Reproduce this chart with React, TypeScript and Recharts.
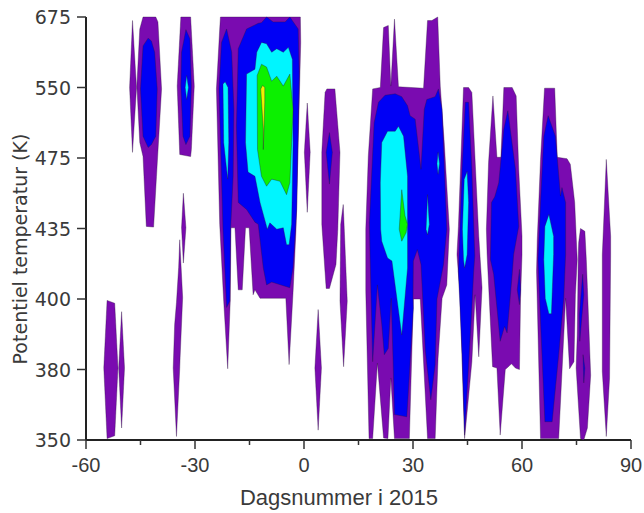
import React from "react";
import { ScatterChart, Scatter, XAxis, YAxis } from "recharts";

type Pt = [number, number];
// x: day number in 2015; y: position on the potential temperature axis (equally spaced levels)
const levels = ["350", "380", "400", "435", "475", "550", "675"];
const dayTicks = [-60, -45, -30, -15, 0, 15, 30, 45, 60, 75, 90];
const levelTicks = [0, 1, 2, 3, 4, 5, 6];

const PURPLE = "#7a0bb0";
const BLUE = "#0000f5";
const CYAN = "#00f5ff";
const GREEN = "#0cf000";
const YELLOW = "#f0f000";

const purpleA: Pt[] = [[-47.2,5.95],[-46.1,5.0],[-47.2,4.08],[-48.0,5.0]];
const purpleB: Pt[] = [[-44.3,6],[-45.2,5.83],[-46,5.02],[-45.2,4.22],[-44.3,4.02],[-43.4,3.03],[-41.4,3.02],[-40.6,3.74],[-39.2,4.98],[-40.2,5.93],[-40.8,6]];
const purpleC: Pt[] = [[-33.9,6],[-34.9,5.02],[-34.2,4.05],[-31.2,4.02],[-31,4.12],[-30.2,5.02],[-31.2,6]];
const purpleD: Pt[] = [[-33.2,3.5],[-32.5,3.01],[-33.2,2.51],[-33.7,3.01]];
const purpleE: Pt[] = [[-34.2,2.84],[-33.4,2.02],[-34.1,1.17],[-34.2,1.02],[-35.1,0.05],[-36,1.02],[-35.6,1.64],[-35.1,1.95],[-34.5,2.45]];
const purpleF: Pt[] = [[-54.2,1.98],[-52.1,1.94],[-51.2,1.02],[-52.1,0.06],[-54.2,0.02],[-55.1,1.02]];
const purpleG: Pt[] = [[-50.2,1.82],[-49.4,1.02],[-50.2,0.17],[-51,1.02]];
const purpleH: Pt[] = [[-23,6],[-1,6],[-0.9,5.64],[-1.6,4.22],[-2.2,2.99],[-3,2.11],[-4.1,1.07],[-5,2.01],[-12.1,2.01],[-13.5,2.13],[-14,2.06],[-15.1,3.01],[-16.1,3.01],[-17,2.13],[-18.1,2.13],[-19,3.01],[-20.1,3.01],[-20.3,1.97],[-21,1.01],[-22.1,1.97],[-23.2,3.06],[-24.1,4.98],[-23.2,5.83]];
const purpleI: Pt[] = [[0.9,4.78],[1.7,4.08],[0.9,3.23],[0.1,4.08]];
const purpleJ: Pt[] = [[6.3,4.98],[8.5,4.98],[9.9,4.08],[9.3,2.99],[8.8,2.49],[7,2.15],[6.1,2.15],[4.9,3.06],[4.9,4.08],[5.8,4.93]];
const purpleK: Pt[] = [[10.8,3.34],[11.9,1.97],[10.9,1.04],[9.9,1.97],[10.1,3.06]];
const purpleL: Pt[] = [[3.9,1.85],[4.8,1.02],[3.9,0.14],[3,1.02]];
const purpleM: Pt[] = [[18.9,4.98],[21,5],[21.9,5.85],[23.2,5.88],[23.9,5.02],[24.9,5.97],[26,5.01],[32.9,4.99],[34,5.95],[35.2,5.95],[36.8,6],[37.5,5.02],[38.6,4.22],[40,2.99],[39.3,2.2],[38,2.01],[36.9,1.16],[36.1,0.02],[34,0.02],[32,2],[30.1,2],[29,0.02],[24.9,0.02],[23.9,0.88],[23.1,0.02],[21.9,0.03],[20.2,1.09],[18.9,0.02],[17.9,0.02],[17,2.11],[17,2.99],[17.7,4.03]];
const purpleN: Pt[] = [[43.9,5],[45.3,5],[46.2,4.93],[48.1,2.89],[48.5,2.56],[49,2.16],[48.1,1.18],[47.1,2.06],[46.2,1.11],[44.2,0.02],[43,2.01],[42.1,2.63],[42.5,3.03]];
const purpleO: Pt[] = [[52,4.88],[53.1,4.01],[54.2,4.01],[55,5],[57.3,5],[58.4,4.88],[59.1,3.84],[60,2.89],[60,2.63],[59.6,2.01],[59.3,1],[58.2,1.02],[57.1,1.08],[55.4,1],[54,0.07],[53.1,1.02],[51.9,1.04],[50.4,2.63],[50.2,2.99],[50.8,3.94]];
const purpleP: Pt[] = [[66.2,4.99],[69,4.99],[69.7,4.01],[72.4,3.99],[73.3,3.91],[74.5,3.37],[75.2,2.56],[74.7,2.06],[74.3,1.11],[73.1,1.01],[72,2.01],[70.1,0.02],[65.1,0.02],[64,2.39],[64.2,2.84],[65.1,3.98]];
const purpleQ: Pt[] = [[76.1,3],[77.3,2.96],[77.7,2.56],[78,2.16],[78.9,0.92],[78,0.17],[77,0],[76.1,0.02],[74.9,1.02],[75.2,1.49],[75.5,2.63],[75.6,2.8]];
const purpleR: Pt[] = [[83.2,3.98],[84.4,2.89],[84.4,2.63],[84.1,0.88],[83.2,0.05],[82.1,0.97],[82.1,2.63],[82.4,2.99]];

const blueA: Pt[] = [[-42.9,5.7],[-44.3,5.59],[-45,4.98],[-44.3,4.31],[-42.9,4.15],[-42,4.19],[-40.8,4.31],[-40.4,4.98],[-41.1,5.5],[-42,5.66]];
const blueB: Pt[] = [[-32.5,5.82],[-33.7,5.5],[-33.9,5.02],[-33.3,4.31],[-32.5,4.19],[-31.4,4.31],[-31,5.02],[-31.4,5.69]];
const blueC: Pt[] = [[-21.3,5.83],[-22.7,5.64],[-23.4,4.98],[-22.3,2.99],[-21.3,1.88],[-20.4,1.97],[-20.2,2.99],[-19.5,3.74],[-19.3,4.69],[-19.9,5.5]];
const blueD: Pt[] = [[-12.6,5.91],[-15.8,5.83],[-18.1,5.55],[-18.6,4.45],[-18.1,3.37],[-15.8,3.27],[-13.5,3.09],[-12.6,3.06],[-11.2,2.44],[-10.3,2.2],[-8.9,2.24],[-3.9,2.16],[-3,2.45],[-2,3.27],[-1.3,5.17],[-1.6,5.83],[-3.9,6],[-5.2,5.93],[-8.5,5.93],[-10.3,6],[-11.7,5.92]];
const blueE: Pt[] = [[7,4.36],[7.8,4.08],[7,3.63],[6.1,4.08]];
const blueF: Pt[] = [[25.1,4.91],[26.9,4.87],[28.5,4.74],[29.2,4.6],[30.6,4.55],[32.2,3.84],[33.1,4.69],[33.8,4.83],[36.1,4.87],[37,4.98],[38,4.69],[39.3,2.99],[38.4,2.49],[36.6,2],[36.1,1.07],[34.9,0.57],[33.4,1.26],[32.2,2.49],[31.2,2.7],[30.1,2.54],[30,2.01],[30.1,1.87],[28.3,0.33],[24.9,0.36],[24.5,1.16],[24,2.01],[23.2,1.3],[22.1,1.21],[21.4,1.64],[20.2,2.2],[18.9,1.11],[18.2,2.58],[18,3.08],[19.3,4.5],[20.5,4.79],[22.3,4.89]];
const blueG: Pt[] = [[44.4,4.79],[45.3,4.79],[46.2,3.84],[47,2.61],[46.7,2.39],[46,1.68],[44.2,0.07],[43.5,1.21],[42.5,2.39],[43.5,3.84]];
const blueH: Pt[] = [[56.1,4.67],[55,4.41],[53.6,3.65],[52.5,3.45],[51.6,3.37],[51.3,2.56],[52.2,2.35],[54,1.4],[55.2,1.61],[55.9,1.52],[57.3,2.35],[57.7,2.63],[59.1,3.03],[58.2,3.84]];
const blueI: Pt[] = [[59.3,2.42],[59.6,2.13],[59.3,1.92],[58.7,2.13]];
const blueJ: Pt[] = [[67.2,4.6],[66,4.31],[65.1,3.37],[64.4,2.56],[65.1,1.68],[66.3,0.26],[68.3,0.26],[70.1,1.21],[71.5,2.01],[72,2.63],[72,3.37],[71,3.58],[70.6,3.46],[69.2,4.31]];
const blueK: Pt[] = [[76.7,2.35],[77,2.06],[75.9,1.4],[75.8,1.78]];
const blueL: Pt[] = [[76.8,1.21],[77.3,1.02],[77,0.81]];
const blueM: Pt[] = [[26,4.01],[25.8,3.98],[26,3.94],[26.2,3.98]];

const cyanA: Pt[] = [[-32.3,5.17],[-32.7,5.0],[-32.3,4.83],[-31.8,5.0]];
const cyanB: Pt[] = [[-21.7,5.08],[-22.3,5.05],[-22.1,4.22],[-21,3.7],[-20.7,4.22],[-20.9,5.0]];
const cyanC: Pt[] = [[-11.7,5.64],[-13,5.5],[-13.5,5.26],[-15.8,5.19],[-16.1,4.22],[-15.4,3.8],[-13.5,3.74],[-12.1,3.37],[-10.3,3.03],[-10.1,2.99],[-9.4,3.08],[-7.5,2.99],[-5.7,3.01],[-4.8,2.77],[-4.1,2.77],[-3.4,3.06],[-3,4.22],[-3.2,5.4],[-4.3,5.57],[-5.7,5.5],[-7.5,5.55],[-8.9,5.5],[-10.3,5.62]];
const cyanD: Pt[] = [[26,4.45],[25.1,4.38],[23,4.38],[21.4,4.22],[21,3.65],[21.1,2.99],[21.4,2.82],[23,2.58],[24.2,2.54],[26.9,1.49],[28.5,2.44],[28.5,3.06],[28.5,3.74],[27.4,4.31]];
const cyanE: Pt[] = [[34,3.48],[33.6,2.99],[34,2.91],[34.5,3.06]];
const cyanF: Pt[] = [[36.9,4.08],[36.6,3.92],[36.9,3.77],[37.3,3.92]];
const cyanG: Pt[] = [[44.9,3.81],[44.1,3.7],[43.6,2.99],[43.9,2.56],[44.2,2.44],[44.9,2.63],[45.3,3.37]];
const cyanH: Pt[] = [[67.4,3.2],[66.3,3.03],[66,2.56],[66.4,2.01],[67.4,1.79],[68.1,1.79],[68.7,2.63],[68.7,2.89]];

const greenA: Pt[] = [[-11.7,5.33],[-12.9,5.17],[-12.8,4.12],[-11.7,3.74],[-10.3,3.6],[-8.9,3.7],[-6.6,3.67],[-4.8,3.48],[-3.9,3.65],[-3,4.69],[-3.9,5.19],[-5.7,5.02],[-7.5,5.16],[-8.9,5.09],[-10.3,5.29]];
const greenB: Pt[] = [[26.9,3.55],[26.2,2.99],[26.9,2.82],[28.1,2.94],[28.5,3.06],[27.8,3.18]];

const yellowA: Pt[] = [[-11.4,5.03],[-11.9,4.98],[-11.2,4.41],[-11.2,4.12],[-10.8,4.79],[-10.8,5.0]];

const contourLayers: { color: string; shapes: Pt[][] }[] = [
  { color: PURPLE, shapes: [purpleA, purpleB, purpleC, purpleD, purpleE, purpleF, purpleG, purpleH, purpleI, purpleJ, purpleK, purpleL, purpleM, purpleN, purpleO, purpleP, purpleQ, purpleR] },
  { color: BLUE, shapes: [blueA, blueB, blueC, blueD, blueE, blueF, blueG, blueH, blueI, blueJ, blueK, blueL, blueM] },
  { color: CYAN, shapes: [cyanA, cyanB, cyanC, cyanD, cyanE, cyanF, cyanG, cyanH] },
  { color: GREEN, shapes: [greenA, greenB] },
  { color: YELLOW, shapes: [yellowA] },
];

const INK = "#3a3a3a";
const FONT = "'Liberation Sans', Arial, sans-serif";
const FONT_Y = "'DejaVu Sans', sans-serif";

const BottomTick = (p: any) => {
  const v = p.payload.value;
  const major = v % 30 === 0;
  return (
    <g>
      <line x1={p.x} x2={p.x} y1={p.y} y2={p.y + (major ? 9 : 5)} stroke="#333" strokeWidth={1.5} />
      {major && (
        <text x={p.x} y={p.y + 32} textAnchor="middle" fontSize={20} fontFamily={FONT} fill={INK}>{v}</text>
      )}
    </g>
  );
};
const LeftTick = (p: any) => (
  <g>
    <line x1={p.x - 9} x2={p.x} y1={p.y} y2={p.y} stroke="#333" strokeWidth={1.5} />
    <text x={p.x - 15} y={p.y + 7} textAnchor="end" fontSize={19} fontFamily={FONT_Y} fill={INK}>{levels[p.payload.value]}</text>
  </g>
);
const TopTick = (p: any) => {
  const major = p.payload.value % 30 === 0;
  return <line x1={p.x} x2={p.x} y1={p.y} y2={p.y + (major ? 8 : 5)} stroke="#333" strokeWidth={1.5} />;
};
const RightTick = (p: any) => (
  <line x1={p.x - 9} x2={p.x} y1={p.y} y2={p.y} stroke="#333" strokeWidth={1.5} />
);

const axisLine = { stroke: "#222", strokeWidth: 2 };

export default function App() {
  return (
    <div style={{ position: "absolute", left: 0, top: 0, width: 644, height: 513, background: "#fff" }}>
      <ScatterChart width={644} height={513} margin={{ top: 17, right: 13, bottom: 43, left: 0 }}>
        <XAxis type="number" dataKey="x" xAxisId="b" domain={[-60, 90]} ticks={dayTicks} interval={0} height={30} tickLine={false} tickSize={0} tickMargin={0} axisLine={axisLine} tick={BottomTick} />
        <XAxis type="number" dataKey="x" xAxisId="t" orientation="top" domain={[-60, 90]} ticks={dayTicks} interval={0} height={0} tickLine={false} tickSize={0} tickMargin={0} axisLine={axisLine} tick={TopTick} />
        <YAxis type="number" dataKey="y" yAxisId="l" domain={[0, 6]} ticks={levelTicks} interval={0} width={86} tickLine={false} tickSize={0} tickMargin={0} axisLine={axisLine} tick={LeftTick} />
        <YAxis type="number" dataKey="y" yAxisId="r" orientation="right" domain={[0, 6]} ticks={levelTicks} interval={0} width={0} tickLine={false} tickSize={0} tickMargin={0} axisLine={axisLine} tick={RightTick} />
        {contourLayers.flatMap((layer, i) =>
          layer.shapes.map((shape, j) => (
            <Scatter
              key={`${i}-${j}`}
              xAxisId="b"
              yAxisId="l"
              isAnimationActive={false}
              data={[...shape, shape[0]].map(([x, y]) => ({ x, y }))}
              fill={layer.color}
              line={{ fill: layer.color, stroke: "#2a1040", strokeWidth: 0.5, strokeOpacity: 0.7 }}
              shape={() => <g />}
            />
          ))
        )}
        <text x={339} y={505} textAnchor="middle" fontSize={22} fontFamily={FONT} fill={INK}>Dagsnummer i 2015</text>
        <text x={27} y={249} textAnchor="middle" fontSize={19} fontFamily={FONT_Y} fill={INK} transform="rotate(-90 27 249)">Potentiel temperatur (K)</text>
      </ScatterChart>
    </div>
  );
}
